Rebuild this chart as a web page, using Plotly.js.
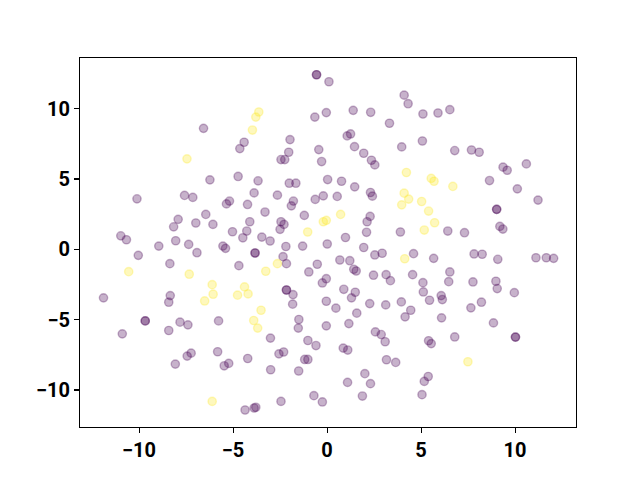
<!DOCTYPE html>
<html>
<head>
<meta charset="utf-8">
<script src="https://cdn.plot.ly/plotly-3.0.1.min.js"></script>
<style>html,body{margin:0;padding:0;background:#fff;}#chart{width:640px;height:480px;}</style>
</head>
<body>
<div id="chart"></div>
<script>
// Class 0 (purple) points
const class0X = [
  -6.57,-10.11,-7.58,-7.14,-6.45,-7.92,-8.16,-6.98,-10.97,-10.67,-8.95,-8.05,-7.36,-6.92,-10.04,-8.36,
  -11.89,-8.34,-8.42,-9.67,-9.67,-10.89,-8.42,-7.82,-7.40,-7.23,-7.44,-8.07,
  -0.56,-0.56,0.10,-0.65,-0.04,-1.97,-4.41,-4.64,-2.04,-0.44,-2.45,-2.25,-0.29,-6.23,-4.73,-3.67,-2.01,
  -1.66,0.03,-3.88,-2.64,-1.79,-1.90,-5.19,-5.35,-4.23,-0.63,-0.20,-6.07,-3.30,-4.11,-2.45,-2.29,-2.50,
  -1.21,-5.03,-4.27,-4.48,-3.47,-3.03,-5.54,-5.40,-2.19,-1.30,0.01,
  -3.83,-3.83,-2.34,-2.16,-4.69,-0.52,-0.97,-0.04,-0.25,-2.16,-2.16,-1.81,-1.83,-0.04,-5.77,-1.50,-1.53,
  -0.04,-3.01,-1.02,-0.59,-5.82,-2.56,-2.31,-4.22,-1.19,-1.02,-5.47,-5.23,-3.00,-1.51,-4.36,-3.88,-3.79,
  -2.45,-0.70,-0.25,
  4.10,4.31,1.39,2.32,5.10,5.90,6.53,3.32,1.07,1.25,3.97,5.07,1.46,1.95,2.36,2.54,6.79,0.77,1.47,2.31,
  2.41,0.54,6.42,2.29,2.13,2.10,0.98,3.90,1.95,
  0.68,1.21,1.42,1.55,2.54,2.93,4.60,5.67,6.53,6.47,2.47,3.14,3.37,4.55,5.10,5.12,5.45,6.07,6.13,0.89,
  1.50,1.30,0.47,2.27,3.12,3.95,4.45,4.15,1.58,1.16,6.09,6.79,2.57,2.88,3.09,5.40,5.54,0.86,1.10,3.16,
  3.65,2.01,2.31,1.09,5.38,5.17,1.88,5.05,
  7.68,8.09,9.36,9.58,10.60,8.64,10.12,11.22,9.02,9.02,9.19,9.35,7.31,
  7.82,8.25,9.08,11.11,11.66,12.05,7.76,8.98,9.05,9.96,7.65,8.21,8.85,10.02,10.02
];
const class0Y = [
  8.60,3.59,3.83,3.69,2.48,2.13,1.60,1.87,0.96,0.68,0.23,0.61,0.35,-0.24,-0.43,-1.02,
  -3.45,-3.29,-3.76,-5.09,-5.09,-6.01,-5.77,-5.18,-5.37,-7.38,-7.59,-8.16,
  12.41,12.41,11.91,9.40,9.72,7.80,7.61,7.16,6.90,7.09,6.38,6.38,6.24,4.94,5.18,4.87,4.70,
  4.70,4.96,4.01,3.85,3.43,3.09,3.43,3.23,3.19,3.55,3.80,1.77,2.65,1.96,1.96,1.77,1.42,
  2.41,1.25,1.30,0.82,0.87,0.59,0.23,0.07,0.20,0.23,0.38,
  -0.26,-0.26,-0.52,-1.02,-1.16,-1.06,-1.61,-2.09,-2.39,-2.89,-2.89,-3.22,-3.90,-3.69,-5.09,-4.99,-5.60,
  -5.44,-6.31,-6.48,-6.84,-7.28,-7.43,-7.30,-7.76,-7.83,-7.83,-8.28,-8.11,-8.56,-8.65,-11.42,-11.28,-11.23,
  -10.81,-10.40,-10.85,
  10.96,10.35,9.88,9.74,9.62,9.69,9.93,8.96,8.06,8.20,7.28,7.70,7.30,6.83,6.33,6.00,7.02,4.84,4.44,4.04,
  3.78,3.76,1.30,2.34,1.96,1.21,0.84,1.23,0.13,
  -0.76,-0.81,-1.42,-1.54,-0.40,-0.28,-0.31,-0.64,-1.61,-2.30,-1.84,-1.80,-2.23,-1.80,-2.37,-3.03,-3.62,-3.29,-3.57,-2.84,
  -3.05,-3.45,-4.18,-3.86,-3.95,-3.74,-4.33,-4.80,-4.54,-5.28,-4.87,-6.23,-5.87,-6.06,-6.57,-6.50,-6.70,-7.02,-7.16,-7.85,
  -8.04,-8.84,-9.55,-9.46,-9.04,-9.39,-10.43,-10.33,
  7.06,6.90,5.84,5.62,6.07,4.89,4.30,3.50,2.84,2.84,1.63,1.44,1.18,
  -0.33,-0.35,-0.71,-0.60,-0.60,-0.64,-2.32,-2.27,-2.79,-3.08,-4.16,-3.76,-5.23,-6.24,-6.24
];
// Class 1 (yellow) points
const class1X = [
  -7.45,-10.55,-7.33,-6.51,-3.63,-3.79,-3.97,-0.20,-0.04,-1.03,-2.64,-3.26,-6.11,-6.06,-4.39,-4.76,
  -4.20,-3.51,-3.90,-3.69,-6.11,4.22,5.54,5.69,6.69,4.10,4.34,3.97,5.03,5.40,5.72,5.17,0.72,4.13,7.49
];
const class1Y = [
  6.43,-1.59,-1.77,-3.67,9.76,9.40,8.48,1.96,2.06,1.23,-1.02,-1.56,-2.51,-3.19,-2.67,-3.26,
  -3.17,-4.33,-5.06,-5.60,-10.81,5.46,5.04,4.84,4.47,3.99,3.57,3.16,3.40,2.72,1.89,1.37,2.48,-0.67,-7.99
];
const tickVals = [-10, -5, 0, 5, 10];
const tickText = ['\u221210', '\u22125', '0', '5', '10'];

const mk = (fill) => ({
  size: 8.3,
  color: fill,
  line: {color: fill, width: 1.4}
});

const traces = [
  {x: class0X, y: class0Y, type: 'scatter', mode: 'markers', marker: mk('rgba(68,1,84,0.3)'), hoverinfo: 'x+y'},
  {x: class1X, y: class1Y, type: 'scatter', mode: 'markers', marker: mk('rgba(253,231,37,0.3)'), hoverinfo: 'x+y'}
];

const axisCommon = {
  showgrid: false,
  zeroline: false,
  showline: true,
  mirror: true,
  linecolor: '#000',
  linewidth: 1.07,
  ticks: 'outside',
  ticklen: 4.9,
  tickwidth: 1.07,
  tickcolor: '#000',
  tickvals: tickVals,
  ticktext: tickText,
  tickfont: {family: 'Roboto, "DejaVu Sans", sans-serif', size: 20, color: '#000', weight: 700}
};

const layout = {
  width: 640,
  height: 480,
  showlegend: false,
  paper_bgcolor: '#fff',
  plot_bgcolor: '#fff',
  margin: {l: 80, r: 64, t: 57.6, b: 52.8, pad: 0},
  xaxis: Object.assign({}, axisCommon, {range: [-13.14, 13.24]}),
  yaxis: Object.assign({}, axisCommon, {range: [-12.63, 13.6]})
};

Plotly.newPlot('chart', traces, layout, {staticPlot: true, displayModeBar: false});
</script>
</body>
</html>
